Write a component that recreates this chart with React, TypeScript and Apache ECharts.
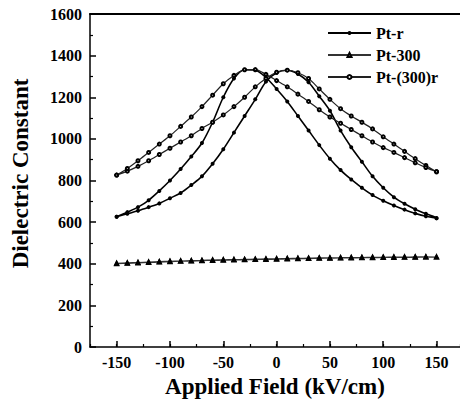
import React, { useEffect, useRef } from "react";
import * as echarts from "echarts";

// Applied field (kV/cm), ascending
const field = [-150, -140, -130, -120, -110, -100, -90, -80, -70, -60, -50, -40, -30, -20, -10, 0, 10, 20, 30, 40, 50, 60, 70, 80, 90, 100, 110, 120, 130, 140, 150];

// Pt-r : sweep up (peak at positive field) and sweep down (peak at negative field)
const ptR_up = [626, 640, 655, 672, 690, 715, 740, 778, 820, 880, 950, 1030, 1110, 1190, 1275, 1318, 1330, 1312, 1272, 1205, 1135, 1040, 960, 890, 820, 765, 720, 688, 662, 640, 620];
const ptR_down = [626, 648, 672, 705, 750, 800, 855, 915, 980, 1080, 1200, 1290, 1332, 1330, 1295, 1240, 1180, 1110, 1040, 970, 905, 850, 805, 765, 730, 703, 680, 660, 642, 628, 618];

// Pt-300 : nearly flat
const pt300_up = [400, 402, 404, 406, 408, 410, 412, 413, 415, 416, 417, 418, 419, 420, 421, 422, 423, 424, 425, 426, 427, 428, 428, 429, 429, 430, 430, 431, 431, 432, 432];
const pt300_down = [402, 404, 406, 408, 410, 412, 413, 415, 416, 418, 419, 420, 421, 422, 423, 424, 425, 426, 427, 428, 428, 429, 430, 430, 431, 431, 432, 432, 433, 433, 432];

// Pt-(300)r : broad butterfly
const pt300r_up = [826, 845, 868, 895, 925, 955, 985, 1015, 1050, 1080, 1115, 1155, 1200, 1250, 1290, 1320, 1330, 1318, 1290, 1240, 1190, 1145, 1110, 1080, 1048, 1010, 975, 940, 905, 872, 842];
const pt300r_down = [826, 858, 895, 935, 975, 1015, 1060, 1105, 1155, 1210, 1265, 1305, 1332, 1333, 1310, 1280, 1250, 1215, 1180, 1140, 1105, 1075, 1045, 1015, 985, 958, 935, 910, 885, 862, 842];

const yTicks = [0, 200, 400, 600, 800, 1000, 1200, 1400, 1600];
const xTicks = [-150, -100, -50, 0, 50, 100, 150];

const loop = (up: number[], down: number[]) => {
  const a = field.map((x, i) => [x, up[i]]);
  const b = field.map((x, i) => [x, down[i]]).reverse();
  return a.concat(b);
};

const FONT = "'Liberation Serif', 'Times New Roman', serif";

export default function App() {
  const ref = useRef<HTMLDivElement>(null);
  useEffect(() => {
    if (!ref.current) return;
    const chart = echarts.init(ref.current, null, { renderer: "svg" });
    const lbl = { fontFamily: FONT, fontWeight: "bold", fontSize: 16, color: "#000" };
    chart.setOption({
      animation: false,
      backgroundColor: "#fff",
      grid: { left: 90, right: 0, top: 14, bottom: 63 },
      legend: {
        left: 322,
        top: 20,
        orient: "vertical",
        itemWidth: 43,
        itemHeight: 5,
        itemGap: 6,
        textStyle: { ...lbl, fontSize: 16 },
        data: ["Pt-r", "Pt-300", "Pt-(300)r"],
      },
      xAxis: [
        {
          type: "value",
          min: -175,
          max: 172,
          position: "bottom",
          name: "Applied Field (kV/cm)",
          nameLocation: "middle",
          nameGap: 24,
          nameTextStyle: { ...lbl, fontSize: 23 },
          axisLine: { show: true, onZero: false, lineStyle: { color: "#000", width: 1.5 } },
          axisTick: { show: true, inside: true, length: 6, customValues: xTicks, lineStyle: { color: "#000", width: 1.5 } },
          axisLabel: { ...lbl, margin: 7, customValues: xTicks, formatter: (v: number) => String(v) },
          splitLine: { show: false },
        },
        {
          type: "value",
          min: -175,
          max: 172,
          interval: 25,
          position: "bottom",
          axisLine: { show: false, onZero: false },
          axisTick: { show: true, inside: true, length: 3, lineStyle: { color: "#000", width: 1.2 } },
          axisLabel: { show: false },
          splitLine: { show: false },
        },
        {
          type: "value",
          min: -175,
          max: 172,
          position: "top",
          axisLine: { show: true, onZero: false, lineStyle: { color: "#000", width: 2 } },
          axisTick: { show: false },
          axisLabel: { show: false },
          splitLine: { show: false },
        },
      ],
      yAxis: {
        type: "value",
        min: 0,
        max: 1600,
        interval: 200,
        position: "left",
        name: "Dielectric Constant",
        nameLocation: "middle",
        nameGap: 58,
        nameTextStyle: { ...lbl, fontSize: 23, padding: [0, 0, 0, 14] },
        axisLine: { show: true, onZero: false, lineStyle: { color: "#000", width: 1.5 } },
        axisTick: { show: true, inside: true, length: 6, lineStyle: { color: "#000", width: 1.5 } },
        minorTick: { show: true, splitNumber: 2, length: 3, lineStyle: { color: "#000", width: 1.2 } },
        axisLabel: { ...lbl, margin: 8, customValues: yTicks, formatter: (v: number) => String(v) },
        splitLine: { show: false },
      },
      series: [
        {
          name: "Pt-r",
          type: "line",
          smooth: 0.3,
          data: loop(ptR_up, ptR_down),
          symbol: "circle",
          symbolSize: 4,
          itemStyle: { color: "#000" },
          lineStyle: { color: "#000", width: 1.6 },
        },
        {
          name: "Pt-300",
          type: "line",
          smooth: 0.3,
          data: loop(pt300_up, pt300_down),
          symbol: "emptyTriangle",
          symbolSize: 3,
          itemStyle: { color: "#000", borderColor: "#333", borderWidth: 0.8 },
          lineStyle: { color: "#333", width: 1.2 },
        },
        {
          name: "Pt-(300)r",
          type: "line",
          smooth: 0.3,
          data: loop(pt300r_up, pt300r_down),
          symbol: "emptyCircle",
          symbolSize: 3,
          itemStyle: { color: "#000", borderColor: "#222", borderWidth: 0.8 },
          lineStyle: { color: "#222", width: 1.2 },
        },
      ],
    });
    return () => chart.dispose();
  }, []);
  return (
    <div
      ref={ref}
      style={{ position: "absolute", left: 0, top: 0, width: 460, height: 410 }}
    />
  );
}
